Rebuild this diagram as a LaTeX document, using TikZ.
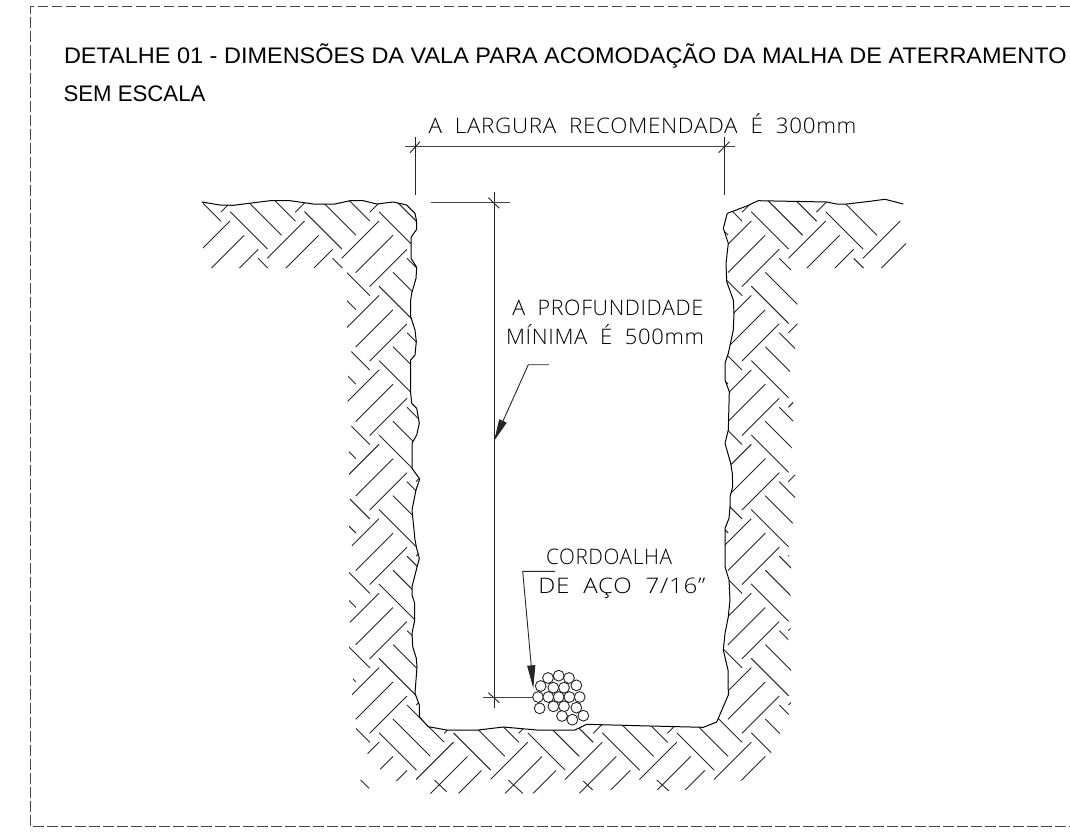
\documentclass[tikz,border=0pt]{standalone}
\usepackage{fontspec}
\usepackage{graphicx}
\usetikzlibrary{arrows.meta}
\setmainfont{Liberation Sans}
\newfontfamily\cad{Open Sans Light}[WordSpace=2,LetterSpace=3]
\newcommand{\cadtxt}[2]{\resizebox{#1pt}{\height}{\fontsize{21.4}{24}\cad #2}}
\newcommand{\ttltxt}[2]{\resizebox{#1pt}{\height}{\fontsize{22.5}{26}\selectfont #2}}
\def\trench{(201.7,202) -- (220,205) -- (233.3,205.3) -- (270,200.7) -- (290,200.7) -- (313.3,204) -- (335,204) -- (350,200.7) -- (363.3,200.7) -- (376.7,204) -- (393.3,202) -- (406.7,205) -- (415,213.3) -- (416.7,221.7) -- (416.7,229.3) -- (411,237.3) -- (411,258.3) -- (416.7,267.3) -- (416,278.3) -- (411.7,293.3) -- (410.7,300) -- (410.7,316.7) -- (415,330) -- (416.3,341.7) -- (415,355) -- (410.7,360) -- (410.7,393.3) -- (411.7,403.3) -- (416.7,408.3) -- (419.3,423.3) -- (416.7,435) -- (412,443.3) -- (412,468.3) -- (419.7,479) -- (416,490) -- (412,510) -- (415,540) -- (416.7,548.3) -- (419.3,558.3) -- (412,586.7) -- (412,595) -- (414.7,603.3) -- (414.7,620) -- (412,633.3) -- (412.7,646.7) -- (416.3,658.3) -- (417,666.7) -- (415,693.3) -- (419.3,705) -- (419.3,716.7) -- (428.3,726.7) -- (446.7,730) -- (478.3,730) -- (503.3,727) -- (536.7,730) -- (575,730) -- (586.7,724.3) -- (650,726) -- (703.3,727.3) -- (716.7,722) -- (728.3,695) -- (728,670) -- (723.3,650) -- (725,633.3) -- (728.3,616.7) -- (730,600) -- (729,580) -- (725,566.7) -- (725,528.3) -- (729,518.3) -- (730,506.7) -- (730,496.7) -- (732.7,486.7) -- (732.3,473.3) -- (730.7,463.3) -- (725,443.3) -- (728.3,430) -- (729.3,391.7) -- (725,380) -- (725,363.3) -- (728.3,353.3) -- (733.3,330) -- (734,313.3) -- (733.3,300) -- (726.7,281.7) -- (726,263.3) -- (728.3,243.3) -- (723.3,228.3) -- (727.3,213.3) -- (731.7,211.7) -- (746.7,206) -- (758.3,200.7) -- (826.7,202) -- (836.7,204) -- (846.7,204) -- (866.7,201.7) -- (885,199.3) -- (903.3,204)}
\tikzset{
  hatchline/.style={line width=0.9pt,draw=black!85},
  wallline/.style={line width=1pt,draw=black,line join=round},
  dimline/.style={line width=1.1pt,draw=black!72},
  extline/.style={line width=1pt,draw=black!85},
  leaderline/.style={line width=0.9pt,draw=black!85},
  frameline/.style={line width=1pt,draw=black!72,dash pattern=on 10.5pt off 3.5pt},
  strand/.style={circle,draw=black!85,fill=white,line width=0.9pt,minimum size=10.8pt,inner sep=0pt},
  label/.style={anchor=base west,inner sep=0pt,outer sep=0pt,text=black},
}
\begin{document}
\begin{tikzpicture}[x=1pt,y=-1pt]
\useasboundingbox (0,0) rectangle (1070,833);
% frame
\draw[frameline] (1070,6.7) -- (30.3,6.7) -- (30.3,826) -- (1070,826);
% titles
\node[label] (title) at (64,63.3) {\ttltxt{1002.5}{DETALHE 01 - DIMENSÕES DA VALA PARA ACOMODAÇÃO DA MALHA DE ATERRAMENTO}};
\node[label] (scale) at (63.5,101) {\ttltxt{142}{SEM ESCALA}};
% soil hatch
\begin{scope}
\clip (190,190) -- (866,190) -- (880,225) -- (902,219.5) -- (910,219.5) -- (910,840) -- (190,840) -- cycle;
\clip \trench -- (906,204) -- (906,268.2) -- (792,268.2) -- (790.7,270) -- (797.3,300) -- (797.3,330) -- (795,349) -- (790,372) -- (793.5,403) -- (793,421) -- (791.7,448) -- (796,482) -- (795,498) -- (792.7,523) -- (789,556) -- (791,568) -- (790.7,598) -- (790.7,628) -- (788.3,640) -- (791,670) -- (791,703) -- (788.5,715) -- (780,734) -- (771,753) -- (745,780) -- (738,781) -- (722,790) -- (700,790) -- (613,789.5) -- (580,793.3) -- (430,793.5) -- (416,781) -- (396,781) -- (380,769.3) -- (367.7,754) -- (356,729) -- (355,712) -- (352,695) -- (353,679) -- (349,647) -- (350,623) -- (349,601) -- (349,573) -- (352,545) -- (349,527) -- (350,499) -- (349,475) -- (349,452) -- (351.5,426) -- (347.5,401) -- (348,377) -- (351.5,350) -- (347,330) -- (347,268.2) -- (203,268.2) -- (203,240) -- (208,236) -- (208,228) -- (203,224) -- (203,202) -- cycle;
\foreach \k in {-3,...,8}{
  \foreach \m in {-1,...,7}{
    \draw[hatchline] ({341.67+\k*74.45},{258.33+\m*74.45}) -- ++(37.33,-37.33);
    \draw[hatchline] ({355.67+\k*74.45},{272.67+\m*74.45}) -- ++(37.33,-37.33);
    \draw[hatchline] ({369.67+\k*74.45},{286.67+\m*74.45}) -- ++(37.33,-37.33);
    \draw[hatchline] ({379+\k*74.45},{211.67+\m*74.45}) -- ++(37.33,37.33);
    \draw[hatchline] ({393+\k*74.45},{272.33+\m*74.45}) -- ++(37.33,37.33);
    \ifnum\m<7
      \draw[hatchline] ({407+\k*74.45},{258.33+\m*74.45}) -- ++(37.33,37.33);
    \fi
  }
}
\end{scope}
% short strokes along the lower edge
\draw[hatchline] (434.3,780) -- (446.7,791.7);
\draw[hatchline] (508.3,780) -- (522.7,793.3);
\draw[hatchline] (583.3,781) -- (592.7,790);
\draw[hatchline] (656.7,780) -- (669,791);
\draw[hatchline] (360.7,780) -- (369,788.3);
% trench outline
\draw[wallline] \trench;
% width dimension
\coordinate (wl) at (404.5,146.7); \coordinate (wr) at (735,146.7);
\draw[dimline] (wl) -- (wr);
\draw[extline] (415,136.5) -- (415,195.3);
\draw[extline] (724,136.5) -- (724,195.3);
\draw[leaderline] (410,152.7) -- (420,141.7);
\draw[leaderline] (718.5,152.7) -- (729.5,141.7);
% depth dimension
\coordinate (dt) at (494,192.3); \coordinate (db) at (494,708);
\draw[extline] (dt) -- (db);
\coordinate (tl) at (430.7,202.7); \coordinate (tr) at (510,202.7);
\draw[dimline] (tl) -- (tr);
\draw[leaderline] (488.3,197.7) -- (499.3,208.3);
\coordinate (bl) at (483.3,697.3); \coordinate (br) at (533.3,697.3);
\draw[dimline] (bl) -- (br);
\draw[leaderline] (488.3,692.7) -- (499.3,702.7);
% strands
\foreach \n/\a/\b in {a/204/114,b/236/107,c/267/114,d/182/138,e/220/143,f/252/143,g/289/136,h/174/171,i/205/171,j/236/171,k/268/171,l/299/171,m/179/205,n/220/199,o/252/199,p/289/203,q/246/228,r/310/227,s/277/239}{
  \node[strand] (st\n) at ({480+\a/3},{640+\b/3}) {};
}
% leaders
\coordinate (la) at (549,364.7); \coordinate (lb) at (528.3,364.7); \coordinate (lc) at (494,441);
\draw[leaderline,-{Triangle[length=22pt,width=8pt]}] (la) -- (lb) -- (lc);
\coordinate (ma) at (555,571.3); \coordinate (mb) at (522.7,571.3); \coordinate (mc) at (533.3,688.3);
\draw[leaderline,-{Triangle[length=23pt,width=8pt]}] (ma) -- (mb) -- (mc);
% labels
\node[label] (lw) at (428.5,133.3) {\cadtxt{428}{A LARGURA RECOMENDADA É 300mm}};
\node[label] (ld1) at (512.3,315.7) {\cadtxt{191}{A PROFUNDIDADE}};
\node[label] (ld2) at (506,344.3) {\cadtxt{198}{MÍNIMA É 500mm}};
\node[label] (lc1) at (546,564.3) {\cadtxt{126}{CORDOALHA}};
\node[label] (lc2) at (538.3,593.3) {\cadtxt{167}{DE AÇO 7/16”}};
\end{tikzpicture}
\end{document}
